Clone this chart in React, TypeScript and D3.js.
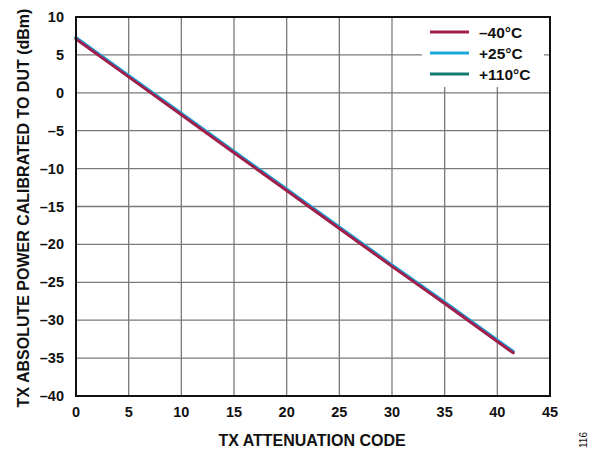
import React from "react";
import * as d3 from "d3";

const codes = [0, 5, 10, 15, 20, 25, 30, 35, 40, 41.5];
const tempM40 = [7.1, 2.1, -2.9, -7.9, -12.9, -17.9, -22.9, -27.8, -32.8, -34.3];
const tempP25 = [7.3, 2.3, -2.7, -7.7, -12.7, -17.7, -22.7, -27.6, -32.6, -34.1];
const tempP110 = [7.2, 2.2, -2.8, -7.8, -12.8, -17.8, -22.8, -27.7, -32.7, -34.2];
const seriesNames = ["–40°C", "+25°C", "+110°C"];
const seriesColors = ["#A01F4B", "#1AA8DF", "#127A70"];
const xTicks = [0, 5, 10, 15, 20, 25, 30, 35, 40, 45];
const yTicks = [10, 5, 0, -5, -10, -15, -20, -25, -30, -35, -40];

const W = 603, H = 453;
const L = 76, R = 550, T = 17, B = 396;
const FONT = "Arial, 'Liberation Sans', Helvetica, sans-serif";

function fmt(v: number) {
  return v < 0 ? "–" + Math.abs(v) : String(v);
}

export default function App() {
  const x = d3.scaleLinear().domain([0, 45]).range([L, R]);
  const y = d3.scaleLinear().domain([-40, 10]).range([B, T]);
  const line = d3.line<number>().x((_, i) => x(codes[i])).y((d) => y(d));
  const series = [tempP110, tempP25, tempM40];
  const seriesIdx = [2, 1, 0];

  const legX0 = 422, legX1 = 544, legY0 = T, legY1 = 87;
  const legRows = [32, 53, 74];

  return (
    <svg width={W} height={H} style={{ position: "absolute", left: 0, top: 0, background: "#fff" }} fontFamily={FONT}>
      <rect x={0} y={0} width={W} height={H} fill="#fff" />
      {xTicks.slice(1, -1).map((t) => (
        <line key={"gx" + t} x1={x(t)} x2={x(t)} y1={T} y2={B} stroke="#7a7a7a" strokeWidth={1.3} />
      ))}
      {yTicks.slice(1, -1).map((t) => (
        <line key={"gy" + t} x1={L} x2={R} y1={y(t)} y2={y(t)} stroke="#7a7a7a" strokeWidth={1.3} />
      ))}
      <rect x={legX0} y={legY0} width={legX1 - legX0} height={legY1 - legY0} fill="#fff" />
      {series.map((s, k) => (
        <path key={"s" + k} d={line(s) || ""} fill="none" stroke={seriesColors[seriesIdx[k]]} strokeWidth={3} strokeLinecap="round" />
      ))}
      <rect x={L} y={T} width={R - L} height={B - T} fill="none" stroke="#111" strokeWidth={2} />
      {seriesNames.map((n, i) => (
        <g key={"leg" + i}>
          <line x1={430} x2={469} y1={legRows[i]} y2={legRows[i]} stroke={seriesColors[i]} strokeWidth={3} />
          <text x={479} y={legRows[i] + 5.5} fontSize={15.5} fontWeight="bold" fill="#111">{n}</text>
        </g>
      ))}
      {xTicks.map((t) => (
        <text key={"xt" + t} x={x(t)} y={417} fontSize={14.5} fontWeight="bold" textAnchor="middle" fill="#111">{fmt(t)}</text>
      ))}
      {yTicks.map((t) => (
        <text key={"yt" + t} x={64} y={y(t) + 5} fontSize={14.5} fontWeight="bold" textAnchor="end" fill="#111">{fmt(t)}</text>
      ))}
      <text x={312} y={446} fontSize={16} fontWeight="bold" textAnchor="middle" fill="#111">TX ATTENUATION CODE</text>
      <text transform={`translate(28.5,208) rotate(-90)`} fontSize={16} fontWeight="bold" textAnchor="middle" fill="#111">TX ABSOLUTE POWER CALIBRATED TO DUT (dBm)</text>
      <text transform="translate(587,440) rotate(-90)" fontSize={10} textAnchor="middle" fill="#111">116</text>
    </svg>
  );
}
